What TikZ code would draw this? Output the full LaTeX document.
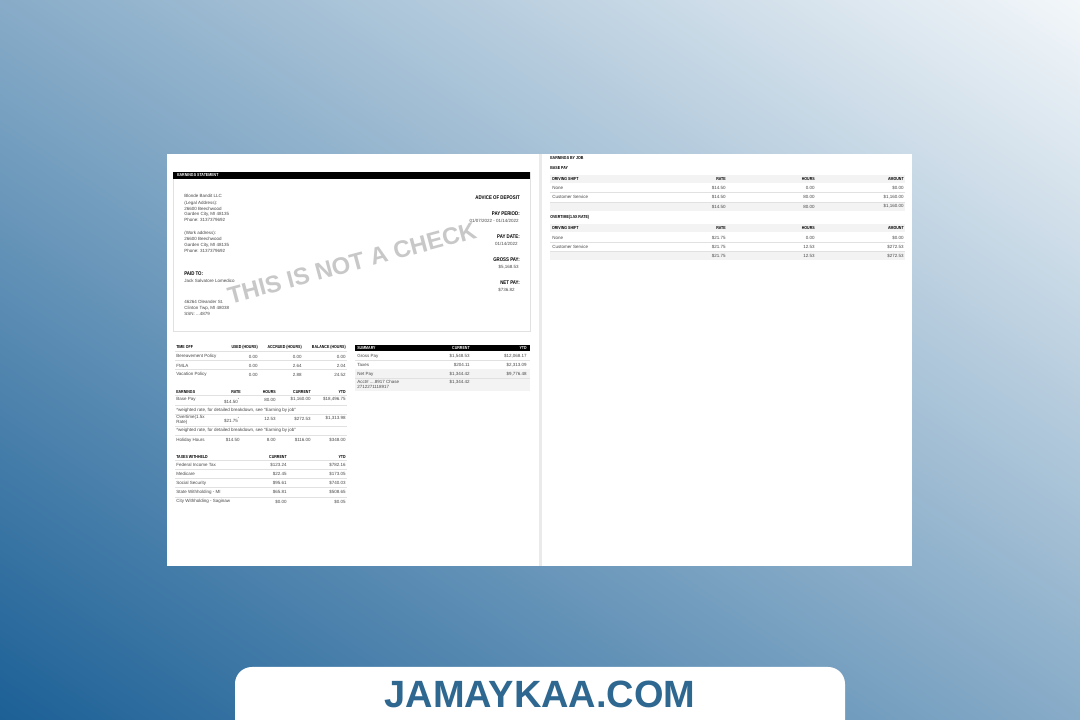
\documentclass[tikz,border=0pt]{standalone}
\usepackage{fontspec}
\setmainfont{Liberation Sans}
\newfontfamily\narrowfont[FakeStretch=0.82]{Liberation Sans}
\usepackage{xcolor}
\usetikzlibrary{positioning}
\definecolor{bgdark}{RGB}{28,96,150}
\definecolor{bgmid}{RGB}{137,176,206}
\definecolor{bglight}{RGB}{243,247,250}
\definecolor{rulegray}{RGB}{225,225,225}
\definecolor{rowgray}{RGB}{243,243,243}
\definecolor{markgray}{RGB}{200,200,200}
\definecolor{inkgray}{RGB}{70,70,70}
\definecolor{siteblue}{RGB}{46,104,145}
\tikzstyle{txt} = [inner sep=0pt, anchor=west, font=\fontsize{3.2}{3.7}\selectfont, text=inkgray]
\tikzstyle{txtr} = [txt, anchor=east]
\tikzstyle{hdr} = [inner sep=0pt, anchor=west, font=\narrowfont\fontsize{3.1}{3.6}\selectfont\bfseries, text=black]
\tikzstyle{hdrr} = [hdr, anchor=east]
\tikzstyle{lbl} = [hdr, font=\narrowfont\fontsize{3.8}{4.2}\selectfont\bfseries]
\tikzstyle{lblr} = [lbl, anchor=east]
\tikzstyle{rowline} = [draw=rulegray, line width=0.35pt]

\begin{document}
\begin{tikzpicture}[x=0.025cm, y=-0.025cm]
    \useasboundingbox (0,0) rectangle (1080,720);
    % background
    \begin{scope}
        \clip (0,0) rectangle (1080,720);
        \shade[transform canvas={shift={(540,360)}, rotate=-33.7}, bottom color=bgdark, middle color=bgmid, top color=bglight] (-1000,599) rectangle (1000,-599);
    \end{scope}

    % paper
    \fill[white] (167,154) rectangle (912,566);
    \fill[rulegray!70] (539,154) rectangle (542,566);

    % statement box
    \draw[rulegray, line width=0.5pt] (173,172) rectangle (530,331);
    \fill[black] (173,172) rectangle (530,179);
    \node[hdr, text=white] (stmt) at (177,175.5) {EARNINGS STATEMENT};

    \node[txt] (company) at (184,196) {Blonde Bandit LLC};
    \node[txt] (legal) at (184,203.5) {(Legal Address):};
    \node[txt] (legal1) at (184,209) {26600 Beechwood};
    \node[txt] (legal2) at (184,214.5) {Garden City, MI 48135};
    \node[txt] (legal3) at (184,220) {Phone: 3137379692};
    \node[txt] (work) at (184,233) {(Work address):};
    \node[txt] (work1) at (184,239) {26600 Beechwood};
    \node[txt] (work2) at (184,245) {Garden City, MI 48135};
    \node[txt] (work3) at (184,251) {Phone: 3137379692};
    \node[lbl] (paid) at (184,273.5) {PAID TO:};
    \node[txt] (payee) at (184,281) {Jack Salvatore Lomedico};
    \node[txt] (home1) at (184,301.5) {46264 Oleander St.};
    \node[txt] (home2) at (184,308) {Clinton Twp, MI 48038};
    \node[txt] (home3) at (184,314) {SSN: ...4879};

    \node[lblr] (advice) at (520,198) {ADVICE OF DEPOSIT};
    \node[lblr] (period) at (520,213.5) {PAY PERIOD:};
    \node[txtr] (periodv) at (519,220.5) {01/07/2022 - 01/14/2022};
    \node[lblr] (date) at (520,236.5) {PAY DATE:};
    \node[txtr] (datev) at (518,243.5) {01/14/2022};
    \node[lblr] (gross) at (520,259.5) {GROSS PAY:};
    \node[txtr] (grossv) at (519,267) {\$5,168.53};
    \node[lblr] (net) at (520,282.5) {NET PAY:};
    \node[txtr] (netv) at (515,290) {\$736.82};

    \node[font=\fontsize{17}{17}\selectfont\bfseries, text=markgray, rotate=15] (mark) at (352,263) {THIS IS NOT A CHECK};

    % time off
    \node[hdr] (offh) at (176,347.5) {TIME OFF};
    \node[hdrr] (offu) at (258,347.5) {USED (HOURS)};
    \node[hdrr] (offa) at (302,347.5) {ACCRUED (HOURS)};
    \node[hdrr] (offb) at (346,347.5) {BALANCE (HOURS)};
    \draw[rowline] (175,351.5) -- (347,351.5);
    \foreach \name/\used/\acc/\bal [count=\i] in {Bereavement Policy/0.00/0.00/0.00, FMLA/0.00/2.64/2.04, Vacation Policy/0.00/2.88/24.52} {
        \node[txt] (off\i) at (176,{347.5+9*\i}) {\name};
        \node[txtr] (offu\i) at (258,{347.5+9*\i}) {\used};
        \node[txtr] (offa\i) at (302,{347.5+9*\i}) {\acc};
        \node[txtr] (offb\i) at (346,{347.5+9*\i}) {\bal};
    }
    \draw[rowline] (175,360.5) -- (347,360.5);
    \draw[rowline] (175,369.5) -- (347,369.5);

    % earnings
    \node[hdr] (earnh) at (176,392) {EARNINGS};
    \node[hdrr] (earnr) at (241,392) {RATE};
    \node[hdrr] (earnhr) at (276,392) {HOURS};
    \node[hdrr] (earnc) at (311,392) {CURRENT};
    \node[hdrr] (earny) at (346,392) {YTD};
    \draw[rowline] (175,395.5) -- (347,395.5);
    \node[txt] (base) at (176,399.5) {Base Pay};
    \node[txtr] (baser) at (240,401) {\$14.50\textsuperscript{*}};
    \node[txtr] (baseh) at (276,399.5) {80.00};
    \node[txtr] (basec) at (311,399.5) {\$1,160.00};
    \node[txtr] (basey) at (346,399.5) {\$18,496.75};
    \draw[rowline] (175,405.5) -- (347,405.5);
    \node[txt] (note1) at (176,410.5) {*weighted rate, for detailed breakdown, see ``Earning by job''};
    \draw[rowline] (175,414) -- (347,414);
    \node[txt, align=left] (over) at (176,419.5) {Overtime(1.5x\\Rate)};
    \node[txtr] (overr) at (240,420) {\$21.75\textsuperscript{*}};
    \node[txtr] (overh) at (276,418.5) {12.53};
    \node[txtr] (overc) at (311,418.5) {\$272.53};
    \node[txtr] (overy) at (346,418.5) {\$1,313.98};
    \draw[rowline] (175,426) -- (347,426);
    \node[txt] (note2) at (176,430.5) {*weighted rate, for detailed breakdown, see ``Earning by job''};
    \draw[rowline] (175,435) -- (347,435);
    \node[txt] (holi) at (176,440) {Holiday Hours};
    \node[txtr] (holir) at (240,440) {\$14.50};
    \node[txtr] (holih) at (276,440) {8.00};
    \node[txtr] (holic) at (311,440) {\$116.00};
    \node[txtr] (holiy) at (346,440) {\$348.00};

    % taxes
    \node[hdr] (taxh) at (176,457) {TAXES WITHHELD};
    \node[hdrr] (taxc) at (287,457) {CURRENT};
    \node[hdrr] (taxy) at (346,457) {YTD};
    \draw[rowline] (175,460.5) -- (347,460.5);
    \foreach \name/\cur/\ytd [count=\i] in {Federal Income Tax/\$123.24/\$782.16, Medicare/\$22.45/\$173.05, Social Security/\$95.61/\$740.03, State Withholding - MI/\$65.81/\$508.65, City Withholding - Saginaw/\$0.00/\$0.05} {
        \node[txt] (tax\i) at (176,{455.5+9.2*\i}) {\name};
        \node[txtr] (taxc\i) at (287,{455.5+9.2*\i}) {\cur};
        \node[txtr] (taxy\i) at (346,{455.5+9.2*\i}) {\ytd};
    }
    \foreach \i in {1,...,4}
        \draw[rowline] (175,{460+9.2*\i}) -- (347,{460+9.2*\i});

    % summary
    \fill[black] (355,345) rectangle (530,351.5);
    \node[hdr, text=white] (sumh) at (357,348.2) {SUMMARY};
    \node[hdrr, text=white] (sumc) at (470,348.2) {CURRENT};
    \node[hdrr, text=white] (sumy) at (527,348.2) {YTD};
    \node[txt] (sgross) at (357,356) {Gross Pay};
    \node[txtr] (sgrossc) at (470,356) {\$1,548.53};
    \node[txtr] (sgrossy) at (527,356) {\$12,068.17};
    \draw[rowline] (355,360.5) -- (530,360.5);
    \node[txt] (stax) at (357,365) {Taxes};
    \node[txtr] (staxc) at (470,365) {\$204.11};
    \node[txtr] (staxy) at (527,365) {\$2,313.09};
    \fill[rowgray] (355,369.5) rectangle (530,391);
    \draw[rowline] (355,378.5) -- (530,378.5);
    \node[txt] (snet) at (357,374) {Net Pay};
    \node[txtr] (snetc) at (470,374) {\$1,344.42};
    \node[txtr] (snety) at (527,374) {\$9,776.48};
    \node[txt, align=left] (sacct) at (357,384) {Acct\# ....8917 Chase\\2712271118917};
    \node[txtr] (sacctc) at (470,382.5) {\$1,344.42};

    % earnings by job
    \node[hdr] (byjob) at (550,158.5) {EARNINGS BY JOB};
    \node[hdr] (basepay) at (550,168) {BASE PAY};
    \node[hdr] (overpay) at (550,217.5) {OVERTIME(1.5X RATE)};
    \foreach \top/\rate/\hrs/\amt [count=\t] in {175/\$14.50/80.00/\$1{,}160.00, 224.5/\$21.75/12.53/\$272.53} {
        \fill[rowgray] (550,\top) rectangle (905,{\top+8});
        \fill[rowgray] (550,{\top+27}) rectangle (905,{\top+36});
        \draw[rowline] (550,{\top+17.5}) -- (905,{\top+17.5});
        \draw[rowline] (550,{\top+27}) -- (905,{\top+27});
        \node[hdr] (shift\t) at (552,{\top+4}) {DRIVING SHIFT};
        \node[hdrr] (rate\t) at (726,{\top+4}) {RATE};
        \node[hdrr] (hours\t) at (815,{\top+4}) {HOURS};
        \node[hdrr] (amount\t) at (904,{\top+4}) {AMOUNT};
        \node[txt] (none\t) at (552,{\top+13}) {None};
        \node[txtr] (noner\t) at (726,{\top+13}) {\rate};
        \node[txtr] (noneh\t) at (815,{\top+13}) {0.00};
        \node[txtr] (nonea\t) at (904,{\top+13}) {\$0.00};
        \node[txt] (cust\t) at (552,{\top+22}) {Customer Service};
        \node[txtr] (custr\t) at (726,{\top+22}) {\rate};
        \node[txtr] (custh\t) at (815,{\top+22}) {\hrs};
        \node[txtr] (custa\t) at (904,{\top+22}) {\amt};
        \node[txtr] (totr\t) at (726,{\top+31.5}) {\rate};
        \node[txtr] (toth\t) at (815,{\top+31.5}) {\hrs};
        \node[txtr] (tota\t) at (904,{\top+31.5}) {\amt};
    }

    % banner
    \fill[white, rounded corners=12] (235,740) rectangle (845,667);
    \node[font=\fontsize{27}{27}\selectfont\bfseries, text=siteblue] (site) at (540,694) {JAMAYKAA.COM};
\end{tikzpicture}
\end{document}
